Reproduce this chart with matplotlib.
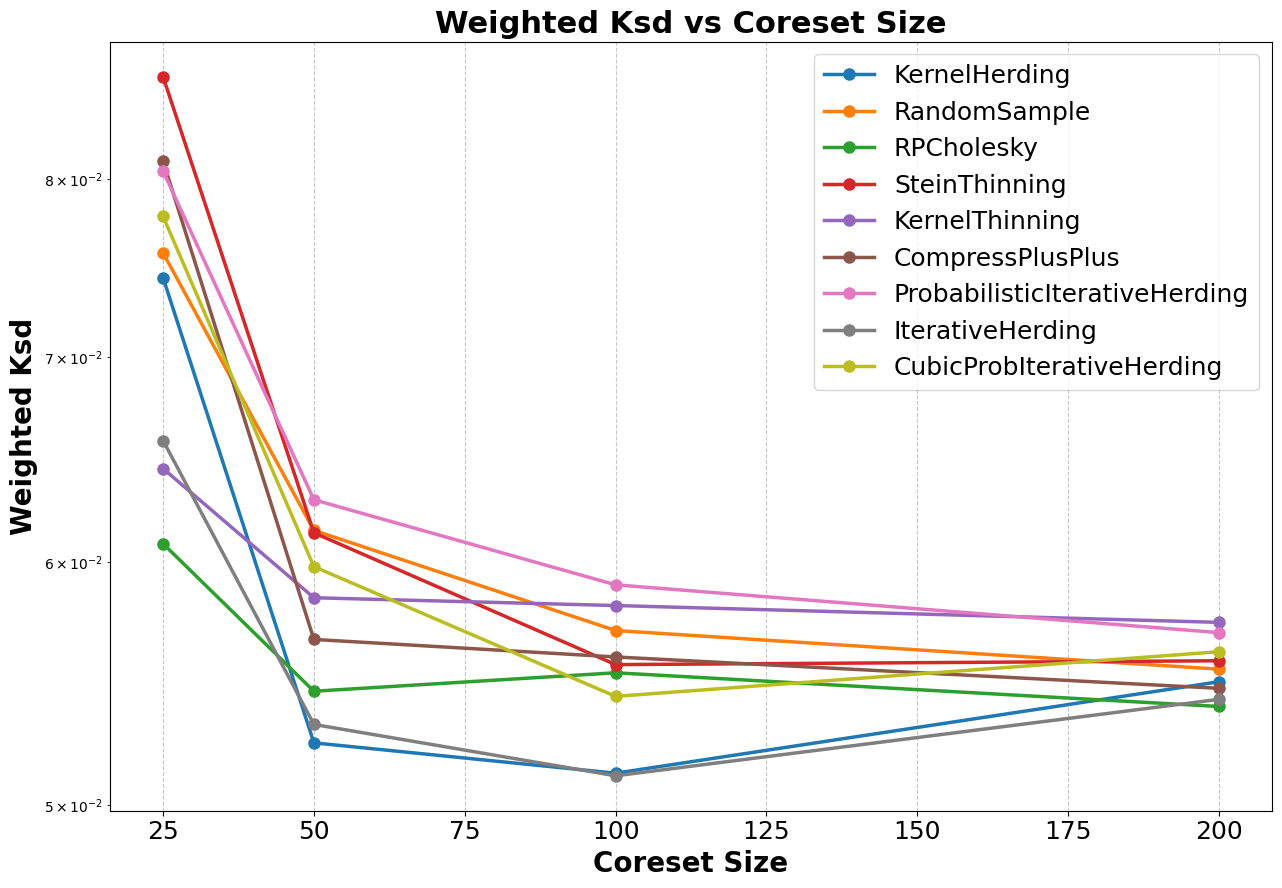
"""Weighted KSD against coreset size for several coreset methods."""

import matplotlib

matplotlib.use("Agg")
import matplotlib.pyplot as plt

coreset_sizes = [25, 50, 100, 200]

kernel_herding = [0.0743, 0.05240, 0.05122, 0.05486]
random_sample = [0.0757, 0.06146, 0.05701, 0.05538]
rp_cholesky = [0.06085, 0.05447, 0.05523, 0.05385]
stein_thinning = [0.0864, 0.06135, 0.05557, 0.05573]
kernel_thinning = [0.06438, 0.05843, 0.05809, 0.05736]
compress_plus_plus = [0.0811, 0.05663, 0.05589, 0.05459]
prob_iterative_herding = [0.0805, 0.06289, 0.05900, 0.05692]
iterative_herding = [0.06575, 0.05313, 0.05112, 0.05414]
cubic_prob_iterative_herding = [0.0778, 0.05981, 0.05426, 0.05611]

method_names = [
    "KernelHerding",
    "RandomSample",
    "RPCholesky",
    "SteinThinning",
    "KernelThinning",
    "CompressPlusPlus",
    "ProbabilisticIterativeHerding",
    "IterativeHerding",
    "CubicProbIterativeHerding",
]
method_values = [
    kernel_herding,
    random_sample,
    rp_cholesky,
    stein_thinning,
    kernel_thinning,
    compress_plus_plus,
    prob_iterative_herding,
    iterative_herding,
    cubic_prob_iterative_herding,
]


def main() -> None:
    fig, ax = plt.subplots(figsize=(12.82, 8.88), dpi=100)
    fig.subplots_adjust(left=0.086, right=0.992, top=0.953, bottom=0.087)

    for name, values in zip(method_names, method_values):
        ax.plot(coreset_sizes, values, marker="o", linewidth=2.5, markersize=8, label=name)

    ax.set_yscale("log")
    ax.set_title("Weighted Ksd vs Coreset Size", fontsize=22, fontweight="bold")
    ax.set_xlabel("Coreset Size", fontsize=20, fontweight="bold")
    ax.set_ylabel("Weighted Ksd", fontsize=20, fontweight="bold")
    ax.tick_params(axis="x", labelsize=18)
    ax.grid(True, axis="x", linestyle="--", alpha=0.7)
    ax.legend(fontsize=18, loc="upper right")

    fig.savefig("out.png", dpi=100)
    plt.close(fig)


if __name__ == "__main__":
    main()
